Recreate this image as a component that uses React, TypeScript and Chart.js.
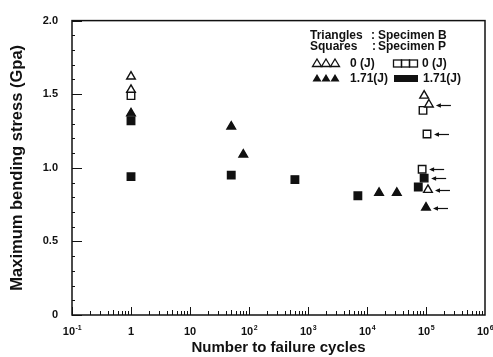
import React, { useEffect, useRef } from "react";
import { Chart, registerables } from "chart.js";

Chart.register(...registerables);

// ---- data (cycles to failure, max bending stress in GPa, runout flag) ----
const openTriCycles = [1, 1, 93000, 112000, 108000];
const openTriStress = [1.62, 1.53, 1.49, 1.43, 0.85];
const openTriRunout = [false, false, false, true, true];

const filledTriCycles = [1, 50, 80, 16000, 32000, 100000];
const filledTriStress = [1.37, 1.28, 1.09, 0.83, 0.83, 0.73];
const filledTriRunout = [false, false, false, false, false, true];

const openSqCycles = [1, 89000, 104000, 86000];
const openSqStress = [1.49, 1.39, 1.23, 0.99];
const openSqRunout = [false, false, true, true];

const filledSqCycles = [1, 1, 50, 600, 7000, 93000, 74000];
const filledSqStress = [1.32, 0.94, 0.95, 0.92, 0.81, 0.93, 0.87];
const filledSqRunout = [false, false, false, false, false, true, false];

const xTickValues = [0.1, 1, 10, 100, 1000, 10000, 100000, 1000000];
const xTickBase = ["10", "1", "10", "10", "10", "10", "10", "10"];
const xTickExp = ["-1", "", "", "2", "3", "4", "5", "6"];
const yTickValues = [0, 0.5, 1.0, 1.5, 2.0];
const yTickLabels = ["0", "0.5", "1.0", "1.5", "2.0"];

const FONT = "'Liberation Sans', Arial, Helvetica, sans-serif";

const toPts = (xs: number[], ys: number[]) => xs.map((x, i) => ({ x, y: ys[i] }));
const runouts = [openTriRunout, filledTriRunout, openSqRunout, filledSqRunout];

const decorPlugin = {
  id: "decor",
  afterDraw(chart: any) {
    const ctx = chart.ctx;
    const { left, right, top, bottom } = chart.chartArea;
    const xs = chart.scales.x;
    const ys = chart.scales.y;
    ctx.save();
    ctx.strokeStyle = "#111";
    ctx.fillStyle = "#111";
    // frame
    ctx.lineWidth = 1.5;
    ctx.strokeRect(left, top, right - left, bottom - top);
    // x ticks (inward)
    ctx.lineWidth = 1;
    for (let e = -1; e < 6; e++) {
      for (let m = 1; m <= 9; m++) {
        const v = m * Math.pow(10, e);
        const px = Math.round(xs.getPixelForValue(v)) + 0.5;
        const len = m === 1 ? 8 : m === 5 ? 5 : 4;
        ctx.beginPath();
        ctx.moveTo(px, bottom);
        ctx.lineTo(px, bottom - len);
        ctx.stroke();
      }
    }
    // y ticks (inward)
    for (let k = 0; k <= 20; k++) {
      const v = k / 10;
      const py = Math.round(ys.getPixelForValue(v)) + 0.5;
      const len = k % 5 === 0 ? 10 : 3;
      ctx.beginPath();
      ctx.moveTo(left, py);
      ctx.lineTo(left + len, py);
      ctx.stroke();
    }
    // x tick labels with superscripts
    ctx.textBaseline = "middle";
    ctx.textAlign = "left";
    xTickValues.forEach((v, i) => {
      const px = xs.getPixelForValue(v);
      ctx.font = `bold 11px ${FONT}`;
      const wb = ctx.measureText(xTickBase[i]).width;
      ctx.font = `bold 7px ${FONT}`;
      const we = xTickExp[i] ? ctx.measureText(xTickExp[i]).width : 0;
      const x0 = px - (wb + we) / 2;
      ctx.font = `bold 11px ${FONT}`;
      ctx.fillText(xTickBase[i], x0, 332);
      if (xTickExp[i]) {
        ctx.font = `bold 7px ${FONT}`;
        ctx.fillText(xTickExp[i], x0 + wb + 0.5, 328);
      }
    });
    // runout arrows
    chart.data.datasets.forEach((ds: any, di: number) => {
      const meta = chart.getDatasetMeta(di);
      meta.data.forEach((el: any, i: number) => {
        if (!runouts[di][i]) return;
        const px = el.x;
        const py = Math.round(el.y) + 0.5;
        ctx.lineWidth = 1.2;
        ctx.beginPath();
        ctx.moveTo(px + 9, py);
        ctx.lineTo(px + 22, py);
        ctx.stroke();
        ctx.beginPath();
        ctx.moveTo(px + 7, py);
        ctx.lineTo(px + 12, py - 2.2);
        ctx.lineTo(px + 12, py + 2.2);
        ctx.closePath();
        ctx.fill();
      });
    });
    // legend
    ctx.font = `bold 12px ${FONT}`;
    ctx.textBaseline = "middle";
    ctx.fillText("Triangles", 310, 36);
    ctx.fillText(":", 371, 36);
    ctx.fillText("Specimen B", 378, 36);
    ctx.fillText("Squares", 310, 47);
    ctx.fillText(":", 372, 47);
    ctx.fillText("Specimen P", 378, 47);

    const tri = (cx: number, cy: number, fill: boolean) => {
      ctx.beginPath();
      ctx.moveTo(cx, cy - 4);
      ctx.lineTo(cx + 4.5, cy + 3.5);
      ctx.lineTo(cx - 4.5, cy + 3.5);
      ctx.closePath();
      if (fill) ctx.fill();
      else {
        ctx.lineWidth = 1.3;
        ctx.stroke();
      }
    };
    [317, 326, 335].forEach((cx) => tri(cx, 63, false));
    [317, 326, 335].forEach((cx) => tri(cx, 78, true));
    ctx.lineWidth = 1.3;
    [393, 401, 409].forEach((x0) => ctx.strokeRect(x0 + 0.5, 60, 8, 7));
    ctx.fillRect(394, 75, 24, 7);
    ctx.fillText("0 (J)", 350, 64);
    ctx.fillText("0 (J)", 422, 64);
    ctx.fillText("1.71(J)", 350, 79);
    ctx.fillText("1.71(J)", 423, 79);
    ctx.restore();
  },
};

export default function App() {
  const ref = useRef<HTMLCanvasElement | null>(null);
  useEffect(() => {
    document.body.style.margin = "0";
    const canvas = ref.current;
    if (!canvas) return;
    const common = { showLine: false, borderColor: "#111", borderWidth: 1.4 };
    const chart = new Chart(canvas, {
      type: "scatter",
      data: {
        datasets: [
          { ...common, label: "Triangles 0 (J)", data: toPts(openTriCycles, openTriStress), pointStyle: "triangle", pointRadius: 5, backgroundColor: "#fff" },
          { ...common, label: "Triangles 1.71(J)", data: toPts(filledTriCycles, filledTriStress), pointStyle: "triangle", pointRadius: 5, backgroundColor: "#111" },
          { ...common, label: "Squares 0 (J)", data: toPts(openSqCycles, openSqStress), pointStyle: "rect", pointRadius: 5.3, backgroundColor: "#fff" },
          { ...common, label: "Squares 1.71(J)", data: toPts(filledSqCycles, filledSqStress), pointStyle: "rect", pointRadius: 5.3, backgroundColor: "#111" },
        ],
      },
      options: {
        responsive: false,
        animation: false,
        layout: { padding: { top: 16, right: 8, left: 0, bottom: 0 } },
        plugins: { legend: { display: false }, tooltip: { enabled: false } },
        scales: {
          x: {
            type: "logarithmic",
            min: 0.1,
            max: 1000000,
            grid: { display: false },
            border: { display: false },
            ticks: { display: false },
            afterBuildTicks: (s: any) => {
              s.ticks = xTickValues.map((v) => ({ value: v }));
            },
            afterFit: (s: any) => {
              s.height = 42;
            },
            title: {
              display: true,
              text: "Number to failure cycles",
              color: "#111",
              font: { family: FONT, size: 15, weight: "bold" },
              padding: { top: 0, bottom: 0 },
            },
          },
          y: {
            min: 0,
            max: 2.0,
            grid: { display: false, drawTicks: false },
            border: { display: false },
            afterBuildTicks: (s: any) => {
              s.ticks = yTickValues.map((v) => ({ value: v }));
            },
            ticks: {
              color: "#111",
              padding: 14,
              font: { family: FONT, size: 11, weight: "bold" },
              callback: (v: any) => {
                const i = yTickValues.findIndex((t) => Math.abs(t - v) < 1e-9);
                return i >= 0 ? yTickLabels[i] : "";
              },
            },
            afterFit: (s: any) => {
              s.width = 72;
            },
            title: {
              display: true,
              text: "Maximum bending stress (Gpa)",
              color: "#111",
              font: { family: FONT, size: 16.5, weight: "bold" },
              padding: { top: 8, bottom: 0 },
            },
          },
        },
      },
      plugins: [decorPlugin],
    } as any);
    return () => chart.destroy();
  }, []);
  return (
    <div style={{ width: 493, height: 357 }}>
      <canvas ref={ref} width={493} height={357} />
    </div>
  );
}
